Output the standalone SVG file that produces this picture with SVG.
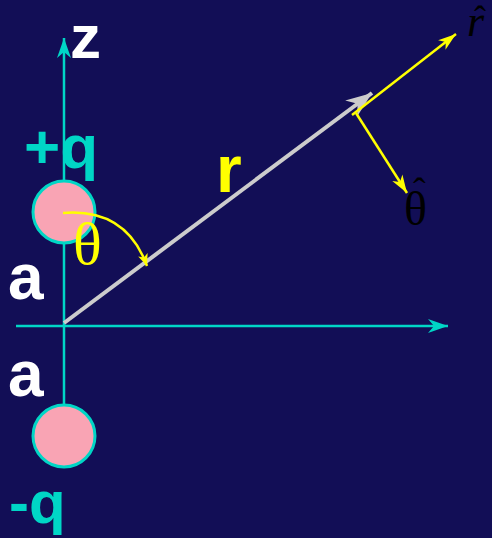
<svg xmlns="http://www.w3.org/2000/svg" width="492" height="538" viewBox="0 0 492 538">
<style>
.axis{stroke:#00d6c6;stroke-width:2.5;fill:none}
.yl{stroke:#ffff00;stroke-width:2.5;fill:none}
.charge{fill:#f9a4b4;stroke:#00d6c6;stroke-width:3}
.lbl{font-family:"Liberation Sans",Arial,sans-serif;font-weight:bold}
.ser{font-family:"Liberation Serif","Times New Roman",serif}
</style>
<defs>
<marker id="ac" markerUnits="userSpaceOnUse" markerWidth="22" markerHeight="16" refX="20" refY="7" orient="auto" overflow="visible">
<path d="M0,0 L20,7 L0,14 L6,7 z" fill="#00d6c6"/>
</marker>
<marker id="ay" markerUnits="userSpaceOnUse" markerWidth="20" markerHeight="14" refX="18" refY="6" orient="auto" overflow="visible">
<path d="M0,0 L18,6 L0,12 L5,6 z" fill="#ffff00"/>
</marker>
<marker id="ays" markerUnits="userSpaceOnUse" markerWidth="14" markerHeight="12" refX="12" refY="5" orient="auto" overflow="visible">
<path d="M0,0 L12,5 L0,10 L3,5 z" fill="#ffff00"/>
</marker>
<marker id="ag" markerUnits="userSpaceOnUse" markerWidth="30" markerHeight="24" refX="26" refY="10" orient="auto" overflow="visible">
<path d="M0,0 L26,10 L0,20 L8,10 z" fill="#cccccc"/>
</marker>
</defs>
<rect width="492" height="538" fill="#120e56"/>
<g id="axes">
<line class="axis" x1="64" y1="405" x2="64" y2="38" marker-end="url(#ac)"/>
<line class="axis" x1="16" y1="326" x2="448" y2="326" marker-end="url(#ac)"/>
</g>
<g id="charge-plus"><circle class="charge" cx="64" cy="212" r="31"/><text class="lbl" x="24" y="168" font-size="62" fill="#00d6c6">+q</text></g>
<g id="charge-minus"><circle class="charge" cx="64" cy="436" r="31"/><text class="lbl" x="9" y="523" font-size="60" fill="#00d6c6">-q</text></g>
<g id="connectors">
<line x1="64" y1="323" x2="372" y2="93" stroke="#cccccc" stroke-width="4" marker-end="url(#ag)"/>
<line class="yl" x1="352" y1="115" x2="456" y2="34" marker-end="url(#ay)"/>
<line class="yl" x1="356" y1="113" x2="407" y2="193" marker-end="url(#ay)"/>
<path class="yl" d="M63,213 Q126,208 147,266" marker-end="url(#ays)"/>
</g>
<g id="labels">
<text class="lbl" x="70" y="58" font-size="62" fill="#ffffff">z</text>
<text class="lbl" x="8" y="299" font-size="64" fill="#ffffff">a</text>
<text class="lbl" x="8" y="396" font-size="64" fill="#ffffff">a</text>
<text class="lbl" x="216" y="192" font-size="66" fill="#ffff00">r</text>
<text class="ser" x="73" y="264" font-size="60" fill="#ffff00">θ</text>
<text class="ser" fill="#000000"><tspan x="467" y="36" font-size="44" font-style="italic">r</tspan><tspan x="474" y="31" font-size="36">ˆ</tspan></text>
<text class="ser" fill="#000000"><tspan x="404" y="225" font-size="48">θ</tspan><tspan x="413" y="204" font-size="38">ˆ</tspan></text>
</g>
</svg>
